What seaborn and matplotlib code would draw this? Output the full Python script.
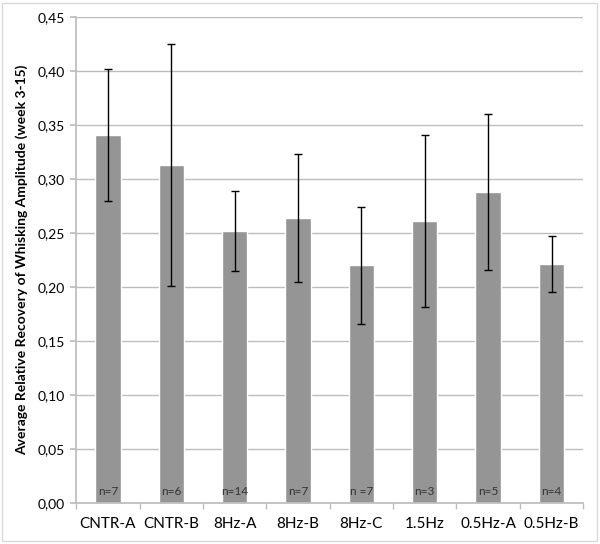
import matplotlib
matplotlib.use("Agg")
import matplotlib.pyplot as plt
from matplotlib.patches import Rectangle
from matplotlib.ticker import FuncFormatter, MultipleLocator
import pandas as pd
import seaborn as sns

groups = ["CNTR-A", "CNTR-B", "8Hz-A", "8Hz-B", "8Hz-C", "1.5Hz", "0.5Hz-A", "0.5Hz-B"]
recovery = [0.341, 0.313, 0.252, 0.264, 0.220, 0.261, 0.288, 0.221]
error = [0.061, 0.112, 0.037, 0.059, 0.054, 0.080, 0.072, 0.026]
n_labels = ["n=7", "n=6", "n=14", "n=7", "n =7", "n=3", "n=5", "n=4"]

df = pd.DataFrame({"group": groups, "recovery": recovery, "error": error, "n": n_labels})

sns.set_theme(style="white")
plt.rcParams["font.family"] = ["Lato", "DejaVu Sans"]

fig = plt.figure(figsize=(6.0, 5.44), dpi=100)
ax = fig.add_axes([0.127, 0.0754, 0.845, 0.8934])

sns.barplot(data=df, x="group", y="recovery", color="#959595", saturation=1,
            width=0.4, errorbar=None, ax=ax, zorder=2)
ax.errorbar(range(len(df)), df["recovery"], yerr=df["error"], fmt="none",
            ecolor="black", elinewidth=1, capsize=3, capthick=1, zorder=3)

for i, lab in enumerate(df["n"]):
    ax.text(i, 0.0105, lab, ha="center", va="center", fontsize=8.5, color="#333333", zorder=4)

ax.set_ylim(0, 0.45)
ax.set_xlim(-0.5, len(df) - 0.5)
ax.yaxis.set_major_locator(MultipleLocator(0.05))
ax.yaxis.set_major_formatter(FuncFormatter(lambda v, p: f"{v:.2f}".replace(".", ",")))
ax.grid(axis="y", color="#bdbdbd", linewidth=1, zorder=0)
ax.set_axisbelow(True)

for side in ["top", "right"]:
    ax.spines[side].set_visible(False)
ax.spines["left"].set_color("#bdbdbd")
ax.spines["bottom"].set_color("#bdbdbd")

ax.set_xticks(range(len(df)))
ax.set_xticks([i + 0.5 for i in range(-1, len(df))], minor=True)
ax.tick_params(axis="x", which="major", length=0, pad=10, labelsize=11, labelcolor="black")
ax.tick_params(axis="x", which="minor", length=4, color="#bdbdbd", direction="out", bottom=True)
ax.tick_params(axis="y", length=4, color="#bdbdbd", direction="out", left=True,
               labelsize=10, labelcolor="black", pad=4)

ax.set_xlabel("")
ax.set_ylabel("Average Relative Recovery of Whisking Amplitude (week 3-15)",
              fontsize=10, fontweight="bold", color="black", labelpad=7)

fig.patches.append(Rectangle((0.003, 0.006), 0.992, 0.988, transform=fig.transFigure,
                             fill=False, edgecolor="#d9d9d9", linewidth=1))

fig.savefig("out.png", dpi=100, facecolor="white")
